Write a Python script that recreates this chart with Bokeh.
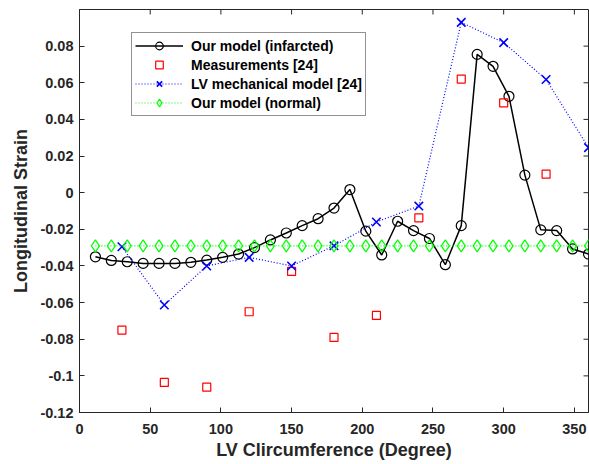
import math
from bokeh.plotting import figure
from bokeh.models import FixedTicker, Range1d
from bokeh.embed import file_html
from bokeh.resources import INLINE

# ---- data ----
deg_model = [11.25, 22.5, 33.75, 45, 56.25, 67.5, 78.75, 90, 101.25, 112.5,
             123.75, 135, 146.25, 157.5, 168.75, 180, 191.25, 202.5, 213.75,
             225, 236.25, 247.5, 258.75, 270, 281.25, 292.5, 303.75, 315,
             326.25, 337.5, 348.75, 360]
strain_infarcted = [-0.035, -0.037, -0.0377, -0.0386, -0.0386, -0.0386, -0.038,
                    -0.0368, -0.0353, -0.0335, -0.030, -0.0258, -0.022, -0.018,
                    -0.0142, -0.0084, 0.0017, -0.021, -0.034, -0.0156, -0.0207,
                    -0.025, -0.0393, -0.018, 0.0755, 0.069, 0.0526, 0.0096,
                    -0.0203, -0.0207, -0.0307, -0.0335]
strain_normal = [-0.029, -0.029, -0.029, -0.029, -0.029, -0.029, -0.029, -0.029,
                 -0.029, -0.029, -0.029, -0.029, -0.029, -0.029, -0.029, -0.029,
                 -0.029, -0.029, -0.029, -0.029, -0.029, -0.029, -0.029, -0.029,
                 -0.029, -0.029, -0.029, -0.029, -0.029, -0.029, -0.029, -0.029]

deg_ref = [30, 60, 90, 120, 150, 180, 210, 240, 270, 300, 330, 360]
strain_lv_mech = [-0.0295, -0.0613, -0.040, -0.0353, -0.040, -0.029, -0.016,
                  -0.0073, 0.093, 0.0819, 0.0618, 0.0246]

deg_meas = [30, 60, 90, 120, 150, 180, 210, 240, 270, 300, 330]
strain_meas = [-0.075, -0.1036, -0.1062, -0.065, -0.043, -0.079, -0.067,
               -0.0137, 0.062, 0.049, 0.0101]

x_ticks = [0, 50, 100, 150, 200, 250, 300, 350]
y_ticks = [-0.12, -0.1, -0.08, -0.06, -0.04, -0.02, 0, 0.02, 0.04, 0.06, 0.08]
y_tick_labels = ["-0.12", "-0.1", "-0.08", "-0.06", "-0.04", "-0.02", "0",
                 "0.02", "0.04", "0.06", "0.08"]
x_min, x_max = 0, 360
y_min, y_max = -0.12, 0.1

FONT = "Liberation Sans"
AX = "#262626"

p = figure(width=589, height=464, output_backend="svg", toolbar_location=None,
           x_range=Range1d(x_min, x_max), y_range=Range1d(y_min, y_max),
           min_border_left=79, min_border_right=1, min_border_top=9,
           min_border_bottom=52, x_axis_label="LV Clircumference (Degree)",
           y_axis_label="Longitudinal Strain")
p.grid.visible = False
p.outline_line_color = AX
p.outline_line_width = 1
p.background_fill_color = "white"
p.border_fill_color = "white"

# series
p.line(deg_model, strain_infarcted, line_color="black", line_width=1.5,
       legend_label="Our model (infarcted)")
p.scatter(deg_model, strain_infarcted, marker="circle", size=10,
          line_color="black", fill_color=None, line_width=1.2,
          legend_label="Our model (infarcted)")

p.scatter(deg_meas, strain_meas, marker="square", size=8, line_color="#FF0000",
          fill_color=None, line_width=1.2, legend_label="Measurements [24]")

p.line(deg_ref, strain_lv_mech, line_color="#0000FF", line_width=1.2,
       line_dash="1 2", legend_label="LV mechanical model [24]")
p.scatter(deg_ref, strain_lv_mech, marker="x", size=12, line_color="#0000FF",
          line_width=1.6, legend_label="LV mechanical model [24]")

p.line(deg_model, strain_normal, line_color="#00FF00", line_width=1.2,
       line_dash="1 2", legend_label="Our model (normal)")
p.scatter(deg_model, strain_normal, marker="diamond", size=12,
          line_color="#00FF00", fill_color=None, line_width=1.2,
          legend_label="Our model (normal)")

# axes
xa = p.xaxis[0]
ya = p.yaxis[0]
xa.ticker = FixedTicker(ticks=x_ticks)
ya.ticker = FixedTicker(ticks=y_ticks)
ya.major_label_overrides = {t: l for t, l in zip(y_ticks, y_tick_labels)}
for ax in (xa, ya):
    ax.major_tick_in = 5
    ax.major_tick_out = 0
    ax.minor_tick_in = 0
    ax.minor_tick_out = 0
    ax.axis_line_color = AX
    ax.major_tick_line_color = AX
    ax.major_label_text_font = FONT
    ax.major_label_text_font_size = "14.5px"
    ax.major_label_text_font_style = "bold"
    ax.major_label_text_color = AX
    ax.axis_label_text_font = FONT
    ax.axis_label_text_font_size = "18px"
    ax.axis_label_text_font_style = "bold"
    ax.axis_label_text_color = AX
xa.major_label_standoff = 11
xa.axis_label_standoff = 3
ya.major_label_standoff = 6
ya.axis_label_standoff = 6

# box ticks on top and right (inward, 5 screen px)
p.ray(x=x_ticks, y=[y_max] * len(x_ticks), length=5, length_units="screen",
      angle=-math.pi / 2, line_color=AX, line_width=1)
p.ray(x=[x_max] * len(y_ticks), y=y_ticks, length=5, length_units="screen",
      angle=math.pi, line_color=AX, line_width=1)

# legend
lg = p.legend[0]
lg.location = (52, 296)
lg.label_text_font = FONT
lg.label_text_font_size = "14px"
lg.label_text_font_style = "bold"
lg.label_text_color = "black"
lg.border_line_color = AX
lg.border_line_width = 1
lg.background_fill_alpha = 1
lg.padding = 3
lg.spacing = 0
lg.label_height = 19
lg.glyph_height = 19
lg.glyph_width = 48
lg.label_standoff = 8
lg.margin = 0

open("out.html", "w").write(file_html(p, INLINE))
